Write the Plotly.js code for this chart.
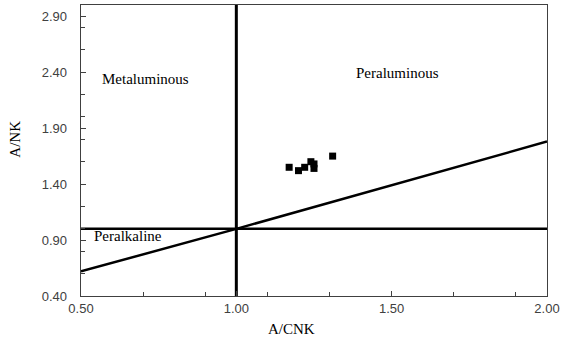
<!DOCTYPE html>
<html>
<head>
<meta charset="utf-8">
<script src="https://cdn.plot.ly/plotly-3.0.1.min.js"></script>
<style>
html,body{margin:0;padding:0;background:#fff}
#chart{width:561px;height:342px}
#chart .annotation-text{font-family:"Liberation Serif","Times New Roman","DejaVu Serif",serif !important;}
</style>
</head>
<body>
<div id="chart"></div>
<script>
// Sample points (A/CNK, A/NK)
const sampleACNK = [1.17, 1.20, 1.22, 1.24, 1.25, 1.25, 1.31];
const sampleANK  = [1.55, 1.52, 1.55, 1.60, 1.58, 1.54, 1.65];

// Boundary lines
const vLineX = [1.0, 1.0];
const vLineY = [0.4, 3.0];
const hLineX = [0.5, 2.0];
const hLineY = [1.0, 1.0];
const diagX = [0.5, 1.0, 2.0];
const diagY = [0.62, 1.0, 1.78];

// Field labels
const fieldNames = ["Metaluminous", "Peraluminous", "Peralkaline"];
const fieldX = [0.562, 1.38, 0.535];
const fieldY = [2.34, 2.39, 0.94];

const serif = 'Liberation Serif, Times New Roman, serif';

const traces = [
  {x: vLineX, y: vLineY, mode: 'lines', line: {color: '#000', width: 3}, hoverinfo: 'skip'},
  {x: hLineX, y: hLineY, mode: 'lines', line: {color: '#000', width: 2.5}, hoverinfo: 'skip'},
  {x: diagX, y: diagY, mode: 'lines', line: {color: '#000', width: 2.5}, hoverinfo: 'skip'},
  {x: sampleACNK, y: sampleANK, mode: 'markers', marker: {symbol: 'square', size: 7, color: '#000'}}
];

const annotations = fieldNames.map((t, i) => ({
  x: fieldX[i], y: fieldY[i], xref: 'x', yref: 'y', text: t, showarrow: false,
  xanchor: 'left', yanchor: 'middle',
  font: {family: serif, size: 15, color: '#000'}
}));
annotations.push({
  xref: 'paper', yref: 'paper', x: 0.452, y: -0.115, text: 'A/CNK', showarrow: false,
  xanchor: 'center', yanchor: 'middle',
  font: {family: serif, size: 15, color: '#000'}
});
annotations.push({
  xref: 'paper', yref: 'paper', x: -0.142, y: 0.54, text: 'A/NK', showarrow: false, textangle: -90,
  xanchor: 'center', yanchor: 'middle',
  font: {family: serif, size: 15, color: '#000'}
});

const axisFont = {family: 'Liberation Sans', size: 13, color: '#404040'};

const layout = {
  width: 561, height: 342,
  margin: {l: 81, r: 14, t: 5, b: 46},
  paper_bgcolor: '#fff', plot_bgcolor: '#fff',
  showlegend: false,
  xaxis: {
    range: [0.5, 2.0], tick0: 0.5, dtick: 0.5, tickformat: '.2f',
    ticks: 'inside', ticklen: 5, tickcolor: '#404040',
    showgrid: false, zeroline: false,
    showline: true, linecolor: '#404040', linewidth: 1.3, mirror: true,
    tickfont: axisFont,
    minor: {ticks: 'inside', tick0: 0.5, dtick: 0.2, ticklen: 4, tickcolor: '#404040', showgrid: false}
  },
  yaxis: {
    range: [0.4, 3.0], tick0: 0.4, dtick: 0.5, tickformat: '.2f',
    ticks: 'inside', ticklen: 5, tickcolor: '#404040',
    showgrid: false, zeroline: false,
    showline: true, linecolor: '#404040', linewidth: 1.3, mirror: true,
    tickfont: axisFont, ticklabelstandoff: 10,
    minor: {ticks: 'inside', tick0: 0.4, dtick: 0.2, ticklen: 4, tickcolor: '#404040', showgrid: false}
  },
  annotations: annotations
};

Plotly.newPlot('chart', traces, layout, {displayModeBar: false, staticPlot: true});
</script>
</body>
</html>
